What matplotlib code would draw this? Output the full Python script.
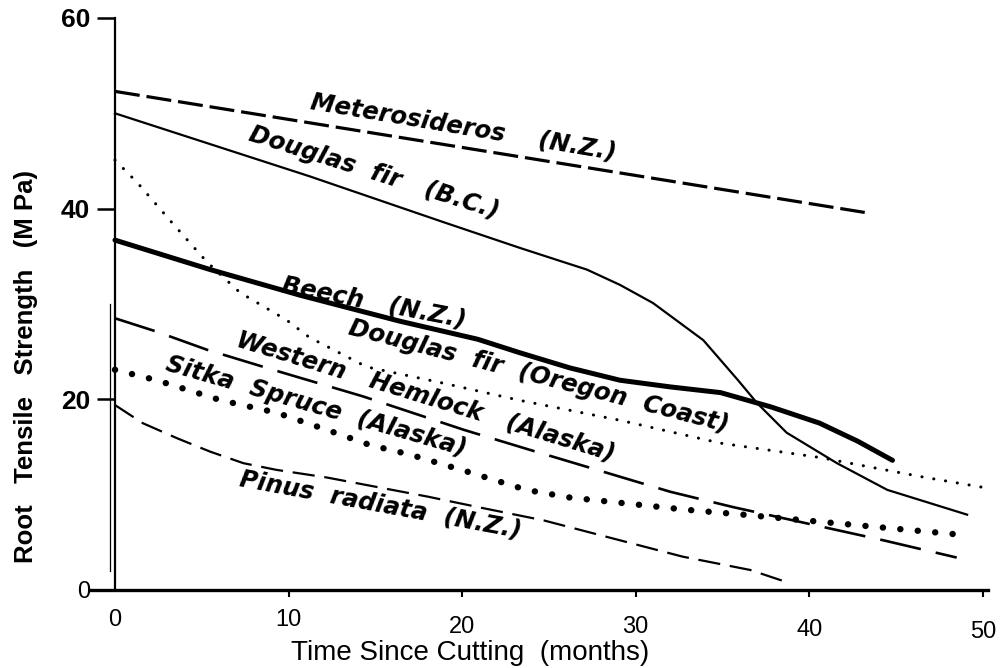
import matplotlib
matplotlib.use("Agg")
import matplotlib.pyplot as plt

plt.rcParams["lines.scale_dashes"] = False

# --- data (months, MPa) ---
metro_t = [0, 43.2]
metro_v = [52.3, 39.6]

dfir_bc_t = [0, 11.2, 18.9, 23.3, 25.5, 27.2, 29.1, 31.0, 33.9, 35.9, 37.0, 38.7, 41.6, 44.5, 49.1]
dfir_bc_v = [50.0, 43.4, 38.6, 35.9, 34.6, 33.6, 32.0, 30.1, 26.2, 22.0, 19.6, 16.5, 13.3, 10.5, 7.9]

beech_t = [0, 5.5, 10.7, 16.4, 20.9, 23.3, 26.2, 29.1, 32.0, 34.9, 37.8, 40.6, 42.8, 44.8]
beech_v = [36.7, 33.6, 30.9, 28.2, 26.3, 24.9, 23.3, 22.0, 21.3, 20.7, 19.2, 17.5, 15.6, 13.6]

dfir_or_t = [0, 1.3, 3.3, 5.3, 7.2, 9.9, 11.2, 14.5, 18.9, 23.3, 29.1, 34.9, 40.6, 46.4, 49.9]
dfir_or_v = [45.1, 42.7, 38.5, 34.4, 31.2, 28.3, 26.5, 23.4, 21.7, 19.9, 17.8, 15.4, 13.9, 11.9, 10.8]

hemlock_t = [0, 2.4, 5.3, 9.1, 14.3, 20.1, 23.9, 25.2, 32.0, 35.6, 44.3, 48.5]
hemlock_v = [28.5, 27.1, 25.2, 23.1, 20.3, 16.8, 14.7, 14.0, 10.3, 8.7, 5.2, 3.4]

sitka_t = [0, 2.4, 6.1, 9.3, 12.2, 14.7, 17.0, 20.5, 23.7, 26.2, 33.0, 36.2, 48.7]
sitka_v = [23.1, 22.0, 19.9, 18.6, 16.8, 15.2, 14.2, 12.3, 10.5, 9.7, 8.4, 7.9, 5.8]

pinus_t = [0, 1.6, 3.6, 5.5, 7.4, 9.3, 12.2, 15.1, 18.0, 20.9, 24.7, 32.7, 36.6, 38.9]
pinus_v = [19.4, 17.5, 15.9, 14.5, 13.3, 12.6, 11.8, 10.8, 9.8, 8.7, 7.3, 3.5, 2.1, 0.7]

steep_t = [-0.3, -0.3]
steep_v = [2.0, 30.0]

x_ticks = [0, 10, 20, 30, 40, 50]
y_ticks = [0, 20, 40, 60]

# curve labels: text, x, y, rotation
labels = [
    ("Meterosideros    (N.Z.)", 20.1, 48.5, -9.5),
    ("Douglas  fir   (B.C.)", 14.9, 43.8, -17.5),
    ("Beech   (N.Z.)", 14.9, 30.2, -11),
    ("Douglas  fir  (Oregon  Coast)", 24.4, 22.4, -14.5),
    ("Western   Hemlock   (Alaska)", 17.9, 20.3, -17),
    ("Sitka  Spruce  (Alaska)", 11.6, 19.3, -16),
    ("Pinus  radiata  (N.Z.)", 15.3, 8.9, -10.5),
]

fig = plt.figure(figsize=(10.03, 6.68), dpi=100)
ax = fig.add_axes([0.0897, 0.1168, 0.8953, 0.8563])

ax.plot(metro_t, metro_v, color="black", lw=2.3, dashes=(18, 5))
ax.plot(dfir_bc_t, dfir_bc_v, color="black", lw=1.6)
ax.plot(beech_t, beech_v, color="black", lw=3.6, solid_capstyle="round")
ax.plot(dfir_or_t, dfir_or_v, color="black", lw=2.2, dashes=(0.1, 8.5),
        dash_capstyle="round")
ax.plot(hemlock_t, hemlock_v, color="black", lw=1.9, dashes=(30, 11))
ax.plot(sitka_t, sitka_v, color="black", lw=4.6, dashes=(0.1, 12.5),
        dash_capstyle="round")
ax.plot(pinus_t, pinus_v, color="black", lw=1.6, dashes=(16, 7))
ax.plot(steep_t, steep_v, color="black", lw=0.9)

for txt, x, y, rot in labels:
    ax.text(x, y, txt, rotation=rot, rotation_mode="anchor", ha="center",
            va="center", fontsize=17.5, fontweight="bold", fontstyle="italic",
            family="DejaVu Sans")

ax.set_xlim(-1.44, 50.3)
ax.set_ylim(0, 60)

for side in ["top", "right"]:
    ax.spines[side].set_visible(False)
ax.spines["left"].set_position(("data", 0))
ax.spines["left"].set_linewidth(1.6)
ax.spines["bottom"].set_linewidth(2.4)

ax.set_xticks(x_ticks)
ax.set_xticklabels([str(v) for v in x_ticks], family="Liberation Sans", fontsize=17)
ax.tick_params(axis="x", direction="out", length=5, width=1.5)
for tick, pad in zip(ax.xaxis.get_major_ticks(), [8.6, 8.6, 13.6, 13.6, 15.6, 17.4]):
    tick.set_pad(pad)
ax.xaxis.get_major_ticks()[0].tick1line.set_visible(False)

ax.set_yticks(y_ticks)
ax.set_yticklabels([str(v) for v in y_ticks], family="Liberation Sans",
                   fontsize=19, fontweight="bold")
ax.yaxis.get_ticklabels()[0].set_fontweight("normal")
ax.yaxis.get_ticklabels()[0].set_fontsize(17)
ax.tick_params(axis="y", direction="out", length=13, width=1.8, pad=5)
ax.yaxis.get_major_ticks()[0].tick1line.set_visible(False)

ax.set_xlabel("Time Since Cutting  (months)", family="Liberation Sans", fontsize=20)
ax.xaxis.set_label_coords(0.423, -0.088)
ax.set_ylabel("Root   Tensile   Strength   (M Pa)", family="Liberation Sans",
              fontsize=18.5, fontweight="bold")
ax.yaxis.set_label_coords(-0.058, 0.39)

fig.savefig("out.png", dpi=100)
